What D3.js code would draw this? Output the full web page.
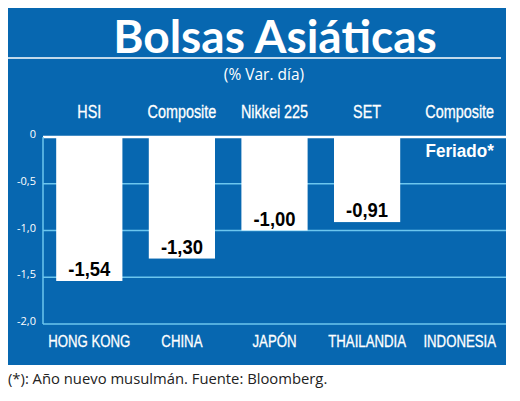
<!DOCTYPE html>
<meta charset="utf-8">
<script src="https://d3js.org/d3.v7.min.js"></script>
<style>
body { margin: 0; background: #fff; }
svg { display: block; }
.narrow { font-family: "Liberation Sans", Arial, sans-serif; }
</style>
<body>
<div class="chart"></div>
<script>

// Chart data
var countries = ["HONG KONG", "CHINA", "JAPÓN", "THAILANDIA", "INDONESIA"],
    indices = ["HSI", "Composite", "Nikkei 225", "SET", "Composite"],
    values = [-1.54, -1.30, -1.00, -0.91, null],
    valueLabels = ["-1,54", "-1,30", "-1,00", "-0,91", "Feriado*"],
    ticks = [0, -0.5, -1.0, -1.5, -2.0],
    tickLabels = ["0", "-0,5", "-1,0", "-1,5", "-2,0"];

var blue = "#0767b0",
    grid = "#6cc6ee";

var svg = d3.select(".chart").append("svg")
    .attr("width", 520)
    .attr("height", 401);

// blue panel
svg.append("rect")
    .attr("x", 8).attr("y", 8)
    .attr("width", 498).attr("height", 357)
    .attr("fill", blue);

// title
svg.append("text")
    .attr("x", 275).attr("y", 53)
    .attr("text-anchor", "middle")
    .attr("fill", "#fff")
    .attr("font-family", "Lato, 'Open Sans', sans-serif")
    .attr("font-weight", "bold")
    .attr("font-size", 46)
    .text("Bolsas Asiáticas");

svg.append("line")
    .attr("x1", 8).attr("x2", 501)
    .attr("y1", 58).attr("y2", 58)
    .attr("stroke", "#fff").attr("stroke-width", 1.5);

svg.append("text")
    .attr("x", 264).attr("y", 80)
    .attr("text-anchor", "middle")
    .attr("fill", "#fff")
    .attr("font-family", "'Open Sans', sans-serif")
    .attr("font-size", 15.5)
    .text("(% Var. día)");

// scales
var x = d3.scaleBand()
    .domain(countries)
    .range([43, 506])
    .paddingInner(0.285)
    .paddingOuter(0.1425);

var y = d3.scaleLinear()
    .domain([0, -2])
    .range([137, 324]);

// gridlines
svg.selectAll(".grid")
    .data(ticks.slice(1))
  .enter().append("line")
    .attr("x1", 43).attr("x2", 506)
    .attr("y1", function(d) { return y(d); })
    .attr("y2", function(d) { return y(d); })
    .attr("stroke", grid).attr("stroke-width", 1.5);

// bars
svg.selectAll(".bar")
    .data(values)
  .enter().append("rect")
    .filter(function(d) { return d !== null; })
    .attr("x", function(d, i) { return x(countries[i]); })
    .attr("y", y(0))
    .attr("width", x.bandwidth())
    .attr("height", function(d) { return y(d) - y(0); })
    .attr("fill", "#fff");

// axis lines
svg.append("line")
    .attr("x1", 43).attr("x2", 506)
    .attr("y1", y(0)).attr("y2", y(0))
    .attr("stroke", "#fff").attr("stroke-width", 2.5);

svg.append("line")
    .attr("x1", 43).attr("x2", 43)
    .attr("y1", y(0)).attr("y2", y(-2))
    .attr("stroke", grid).attr("stroke-width", 1.5);

// y tick labels
svg.selectAll(".tick-label")
    .data(ticks)
  .enter().append("text")
    .attr("x", 36)
    .attr("y", function(d) { return y(d) + 1; })
    .attr("text-anchor", "end")
    .attr("fill", "#fff")
    .attr("font-family", "'Open Sans', sans-serif")
    .attr("font-size", 11)
    .text(function(d, i) { return tickLabels[i]; });

// squeezed labels, to fake the condensed face of the original
function narrowText(sel, cx, cy, squeeze) {
  return sel.append("g")
      .attr("transform", function(d, i) {
        return "translate(" + cx(d, i) + "," + cy(d, i) + ") scale(" + squeeze + ",1)";
      })
    .append("text")
      .attr("class", "narrow")
      .attr("text-anchor", "middle");
}

function center(i) { return x(countries[i]) + x.bandwidth() / 2; }

// index names on top
narrowText(svg.selectAll(".index-label").data(indices).enter(),
    function(d, i) { return center(i); }, function() { return 118; }, 0.8)
    .attr("fill", "#fff")
    .attr("font-size", 18)
    .attr("stroke", "#fff").attr("stroke-width", 0.3)
    .text(function(d) { return d; });

// country names at bottom
narrowText(svg.selectAll(".country-label").data(countries).enter(),
    function(d, i) { return center(i); }, function() { return 347; }, 0.8)
    .attr("fill", "#fff")
    .attr("font-size", 16.5)
    .attr("stroke", "#fff").attr("stroke-width", 0.3)
    .text(function(d) { return d; });

// value labels
narrowText(svg.selectAll(".value-label").data(values).enter(),
    function(d, i) { return center(i); },
    function(d) { return d === null ? 157 : y(d) - 5; }, 0.9)
    .attr("fill", function(d) { return d === null ? "#fff" : "#000"; })
    .attr("font-weight", "bold")
    .attr("font-size", function(d) { return d === null ? 19 : 20.5; })
    .text(function(d, i) { return valueLabels[i]; });

// footnote
svg.append("text")
    .attr("x", 8).attr("y", 384)
    .attr("fill", "#222")
    .attr("font-family", "'Open Sans', sans-serif")
    .attr("font-size", 14.8)
    .text("(*): Año nuevo musulmán. Fuente: Bloomberg.");

</script>
</body>
